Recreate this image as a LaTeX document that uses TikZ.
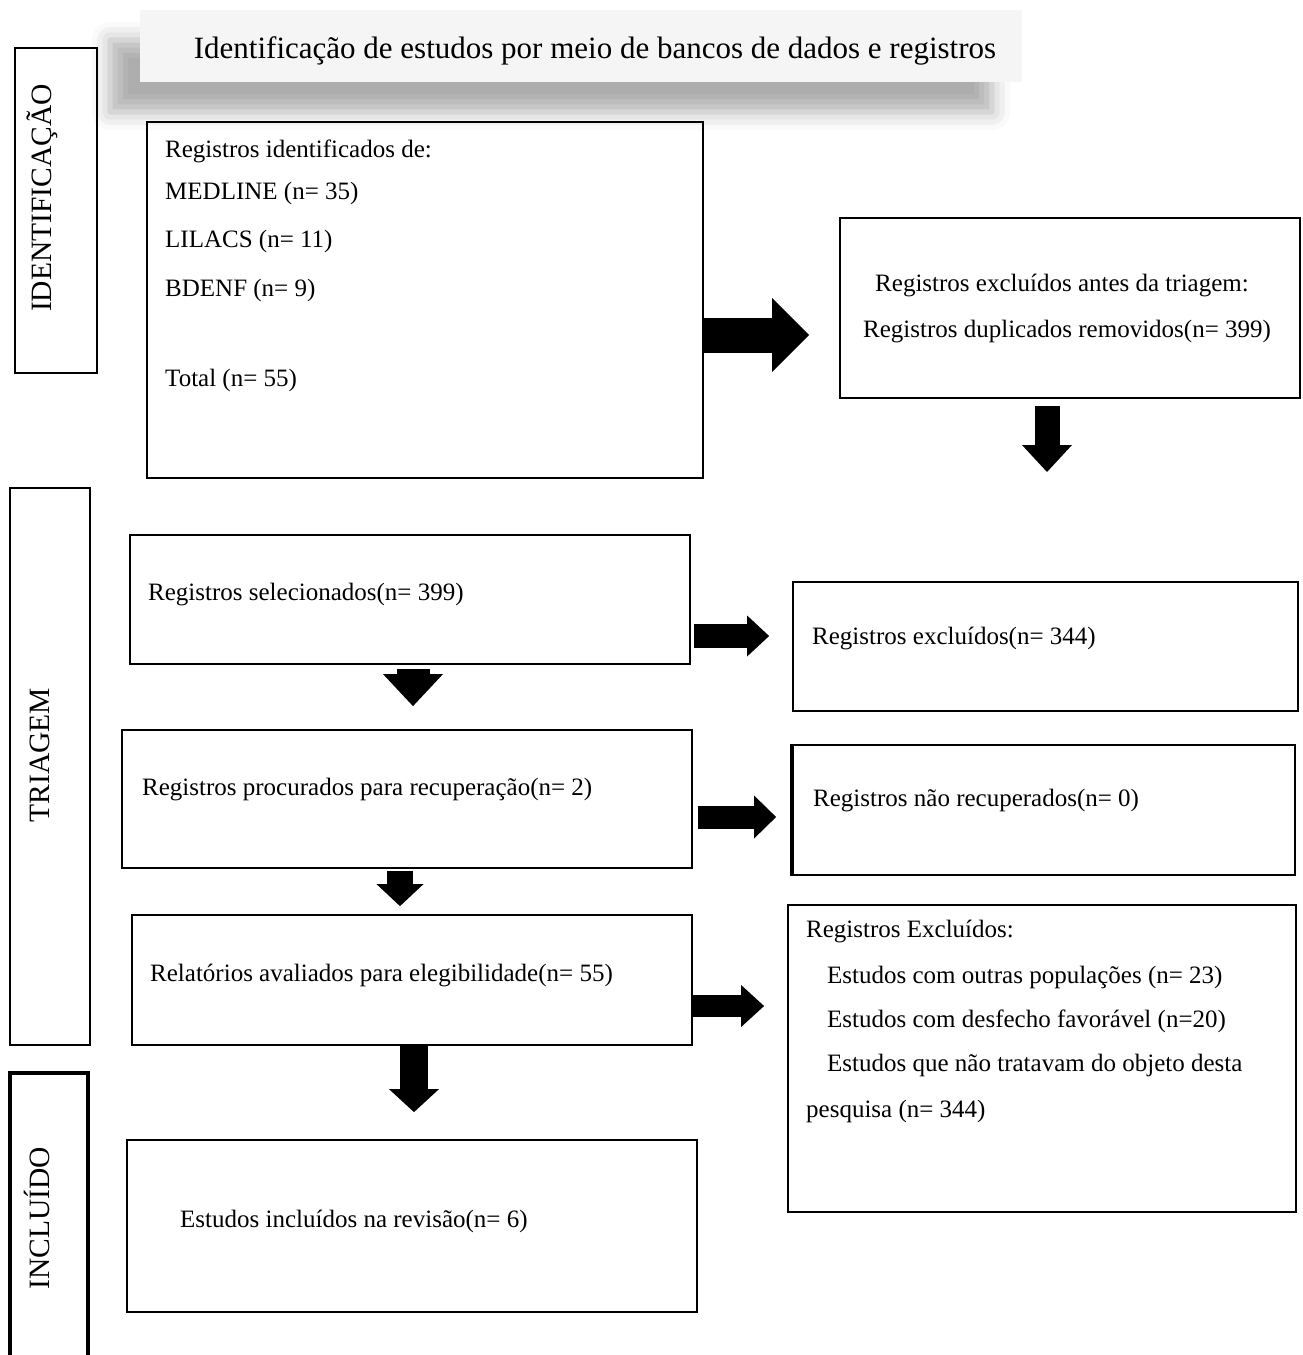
\documentclass[tikz,border=0pt]{standalone}
\usepackage{fontspec}
\setmainfont{Liberation Serif}
\usetikzlibrary{arrows.meta,shadows.blur}

\tikzset{
  box/.style={draw=black, line width=1.8pt, inner sep=0pt},
  sidebox/.style={draw=black, line width=2pt, inner sep=0pt},
  txt/.style={font=\fontsize{25}{30}\selectfont, inner sep=0pt, anchor=base west},
  sidetxt/.style={font=\fontsize{29.5}{34}\selectfont, inner sep=0pt, rotate=90},
  blockarrow/.style n args={3}{line width=#1, -{Triangle[line width=0pt, length=#2, width=#3]}},
}

\begin{document}
\begin{tikzpicture}[x=1pt, y=-1pt]
    \useasboundingbox (0,0) rectangle (1302,1355);

    % Titolo con ombra
    \node[fill=gray!8, minimum width=882pt, minimum height=72pt,
          blur shadow={shadow xshift=-30pt, shadow yshift=-30pt, shadow blur radius=18pt, shadow opacity=32}] (hdr) at (581,46) {};
    \node[font=\fontsize{31}{36}\selectfont, inner sep=0pt, anchor=base] (hdrtxt) at (595,58)
        {Identificação de estudos por meio de bancos de dados e registros};

    % Fasce laterali
    \node[sidebox, minimum width=82pt, minimum height=325pt] (idbox) at (56,210.5) {};
    \node[sidetxt] (idtxt) at (42,198) {IDENTIFICAÇÃO};

    \node[sidebox, minimum width=80pt, minimum height=557pt] (trbox) at (50,766.5) {};
    \node[sidetxt] (trtxt) at (40,755) {TRIAGEM};

    \node[sidebox, line width=4pt, minimum width=78pt, minimum height=317pt] (inbox) at (49,1231.5) {};
    \node[sidetxt] (intxt) at (37,1218) {INCLUÍDO};

    % Identificazione
    \node[box, minimum width=556pt, minimum height=356pt] (b1) at (425,300) {};
    \node[txt] (b1a) at (165,157) {Registros identificados de:};
    \node[txt] (b1b) at (165,199) {MEDLINE (n= 35)};
    \node[txt] (b1c) at (165,247) {LILACS (n= 11)};
    \node[txt] (b1d) at (165,296) {BDENF (n= 9)};
    \node[txt] (b1e) at (165,386) {Total (n= 55)};

    \node[box, minimum width=460pt, minimum height=180pt] (b2) at (1070,308) {};
    \node[txt, anchor=base] (b2a) at (1062,291) {Registros excluídos antes da triagem:};
    \node[txt, anchor=base] (b2b) at (1067,337) {Registros duplicados removidos(n= 399)};

    % Triagem
    \node[box, minimum width=560pt, minimum height=129pt] (b3) at (410,599.5) {};
    \node[txt] (b3a) at (148,600) {Registros selecionados(n= 399)};

    \node[box, minimum width=505pt, minimum height=129pt] (b4) at (1045.5,646.5) {};
    \node[txt] (b4a) at (812,644) {Registros excluídos(n= 344)};

    \node[box, minimum width=570pt, minimum height=138pt] (b5) at (407,799) {};
    \node[txt] (b5a) at (142,795) {Registros procurados para recuperação(n= 2)};

    \node[box, minimum width=502pt, minimum height=130pt] (b6) at (1044,810) {};
    \draw[line width=3.5pt] (b6.north west) -- (b6.south west);
    \node[txt] (b6a) at (813,806) {Registros não recuperados(n= 0)};

    \node[box, minimum width=560pt, minimum height=130pt] (b7) at (412,980) {};
    \node[txt] (b7a) at (150,981) {Relatórios avaliados para elegibilidade(n= 55)};

    \node[box, minimum width=508pt, minimum height=307pt] (b8) at (1042,1058.5) {};
    \node[txt] (b8a) at (806,937) {Registros Excluídos:};
    \node[txt] (b8b) at (827,983) {Estudos com outras populações (n= 23)};
    \node[txt] (b8c) at (827,1027) {Estudos com desfecho favorável (n=20)};
    \node[txt] (b8d) at (827,1071) {Estudos que não tratavam do objeto desta};
    \node[txt] (b8e) at (806,1117) {pesquisa (n= 344)};

    % Incluso
    \node[box, minimum width=570pt, minimum height=172pt] (b9) at (412,1226) {};
    \node[txt] (b9a) at (180,1227) {Estudos incluídos na revisão(n= 6)};

    % Frecce
    \coordinate (a2end) at (1047,472);
    \draw[blockarrow={35pt}{37pt}{74pt}, shorten >=30pt]
        ([yshift=-35pt]b1.east) -- ([yshift=-35pt]b1.east -| b2.west);
    \draw[blockarrow={25pt}{27pt}{50pt}, shorten <=7pt]
        ([xshift=-23pt]b2.south) -- (a2end);
    \draw[blockarrow={24pt}{22pt}{41pt}, shorten <=3pt, shorten >=23pt]
        ([yshift=-36.5pt]b3.east) -- ([yshift=-36.5pt]b3.east -| b4.west);
    \draw[blockarrow={33pt}{32pt}{60pt}, shorten <=4pt, shorten >=23pt]
        ([xshift=3pt]b3.south) -- ([xshift=3pt]b3.south |- b5.north);
    \draw[blockarrow={23pt}{22pt}{43pt}, shorten <=5pt, shorten >=16pt]
        ([yshift=-18pt]b5.east) -- ([yshift=-18pt]b5.east -| b6.west);
    \draw[blockarrow={26pt}{22pt}{47pt}, shorten <=2pt, shorten >=8pt]
        ([xshift=-7pt]b5.south) -- ([xshift=-7pt]b5.south |- b7.north);
    \draw[blockarrow={22pt}{23pt}{42pt}, shorten >=23pt]
        ([yshift=-26pt]b7.east) -- ([yshift=-26pt]b7.east -| b8.west);
    \draw[blockarrow={28pt}{23pt}{50pt}, shorten >=27pt]
        ([xshift=2pt]b7.south) -- ([xshift=2pt]b7.south |- b9.north);

\end{tikzpicture}
\end{document}
